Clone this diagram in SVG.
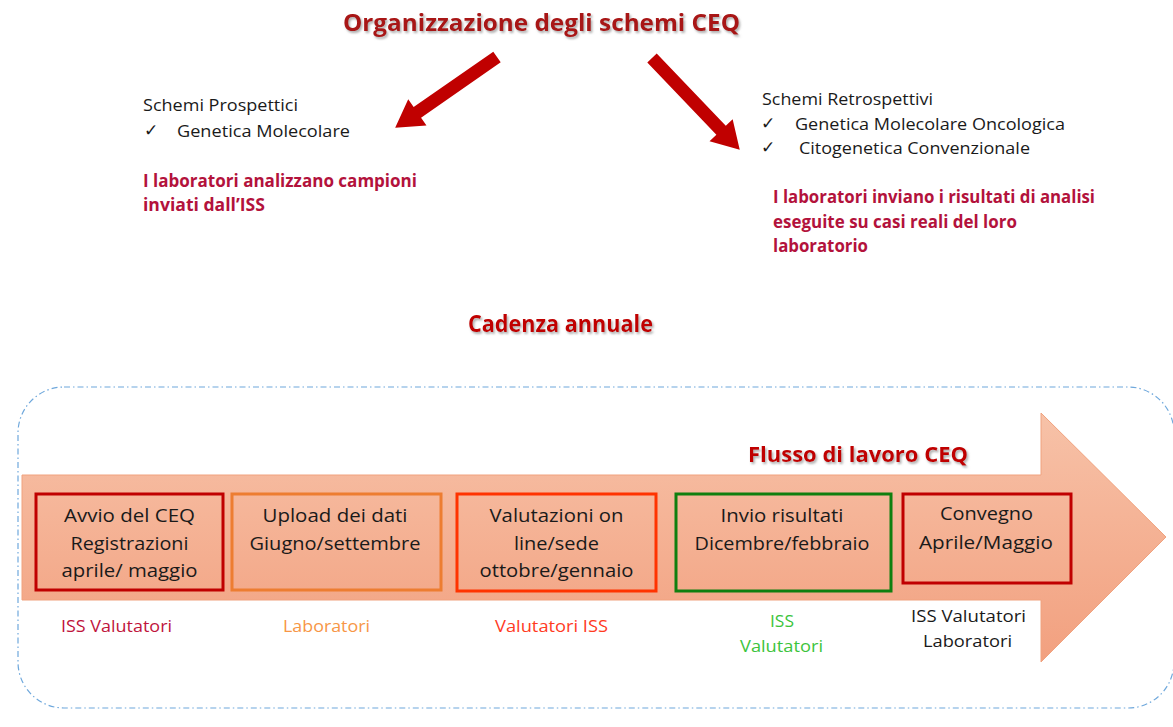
<svg xmlns="http://www.w3.org/2000/svg" width="1173" height="727" viewBox="0 0 1173 727">
<defs>
  <linearGradient id="arrowGrad" x1="0" y1="413" x2="0" y2="662" gradientUnits="userSpaceOnUse">
    <stop offset="0" stop-color="#F7C2A8"/>
    <stop offset="1" stop-color="#F2A07F"/>
  </linearGradient>
  <filter id="shadow" x="-10%" y="-30%" width="120%" height="160%">
    <feDropShadow dx="1.5" dy="2" stdDeviation="1" flood-color="#777" flood-opacity="0.6"/>
  </filter>
</defs>
<style>
  text { font-family: "Open Sans", "Liberation Sans", sans-serif; }
  .hdr { font-weight: bold; fill: #C00000; filter: url(#shadow); }
  .blk { font-size: 17px; fill: #1a1a1a; }
  .chk { font-family: "DejaVu Sans", sans-serif; font-size: 17px; fill: #1a1a1a; }
  .red { font-size: 17px; font-weight: bold; fill: #B3123C; }
  .box { fill: none; stroke-width: 3; }
  .bt { font-size: 19px; fill: #1a1a1a; text-anchor: middle; }
  .lbl { font-size: 16.5px; text-anchor: middle; }
  .blockarrow { fill: #C00000; }
</style>

<rect x="18" y="387" width="1156" height="321" rx="46" ry="46" fill="none" stroke="#6FA8DC" stroke-width="1.2" stroke-dasharray="6 3 1.5 3"/>

<g id="title">
  <text class="hdr" x="541.5" y="31" font-size="24" text-anchor="middle" textLength="397" lengthAdjust="spacingAndGlyphs" style="fill:#A81212">Organizzazione degli schemi CEQ</text>
</g>

<g id="connectors">
  <polygon class="blockarrow" transform="translate(497,57) rotate(145.2)" points="0,-6.5 97,-6.5 97,-16 124,0 97,16 97,6.5 0,6.5"/>
  <polygon class="blockarrow" transform="translate(652,58) rotate(46.3)" points="0,-6.5 100,-6.5 100,-16 127,0 100,16 100,6.5 0,6.5"/>
</g>

<g id="prospettici">
  <text class="blk" x="143" y="111" textLength="155" lengthAdjust="spacingAndGlyphs">Schemi Prospettici</text>
  <text class="chk" x="144" y="136">✓</text>
  <text class="blk" x="177" y="137" textLength="173" lengthAdjust="spacingAndGlyphs">Genetica Molecolare</text>
  <text class="red" x="143" y="187" textLength="274" lengthAdjust="spacingAndGlyphs">I laboratori analizzano campioni</text>
  <text class="red" x="143" y="211" textLength="122" lengthAdjust="spacingAndGlyphs">inviati dall’ISS</text>
</g>

<g id="retrospettivi">
  <text class="blk" x="762" y="105" textLength="171" lengthAdjust="spacingAndGlyphs">Schemi Retrospettivi</text>
  <text class="chk" x="761" y="129">✓</text>
  <text class="blk" x="795" y="130" textLength="270" lengthAdjust="spacingAndGlyphs">Genetica Molecolare Oncologica</text>
  <text class="chk" x="761" y="153">✓</text>
  <text class="blk" x="799" y="154" textLength="231" lengthAdjust="spacingAndGlyphs">Citogenetica Convenzionale</text>
  <text class="red" x="773" y="203" textLength="322" lengthAdjust="spacingAndGlyphs">I laboratori inviano i risultati di analisi</text>
  <text class="red" x="773" y="228" textLength="244" lengthAdjust="spacingAndGlyphs">eseguite su casi reali del loro</text>
  <text class="red" x="773" y="252" textLength="95" lengthAdjust="spacingAndGlyphs">laboratorio</text>
</g>

<g id="cadenza">
  <text class="hdr" x="560.5" y="332" font-size="23" text-anchor="middle" textLength="185" lengthAdjust="spacingAndGlyphs">Cadenza annuale</text>
</g>

<g id="flow-arrow">
  <polygon points="22,475 1041,475 1041,413 1166,537 1041,662 1041,600 22,600" fill="url(#arrowGrad)" stroke="#F0A27E" stroke-width="1"/>
  <text class="hdr" x="858" y="462" font-size="22" text-anchor="middle" textLength="220" lengthAdjust="spacingAndGlyphs">Flusso di lavoro CEQ</text>
</g>

<g id="step1">
  <rect class="box" x="36" y="494" width="187" height="96" stroke="#C00000"/>
  <text class="bt" x="129.5" y="522" textLength="131" lengthAdjust="spacingAndGlyphs">Avvio del CEQ</text>
  <text class="bt" x="129.5" y="550" textLength="118" lengthAdjust="spacingAndGlyphs">Registrazioni</text>
  <text class="bt" x="129.5" y="577" textLength="136" lengthAdjust="spacingAndGlyphs">aprile/ maggio</text>
  <text class="lbl" x="116.5" y="632" fill="#C0143C" textLength="111" lengthAdjust="spacingAndGlyphs">ISS Valutatori</text>
</g>

<g id="step2">
  <rect class="box" x="232" y="494" width="209" height="96" stroke="#ED7D31"/>
  <text class="bt" x="335" y="522" textLength="145" lengthAdjust="spacingAndGlyphs">Upload dei dati</text>
  <text class="bt" x="335" y="550" textLength="171" lengthAdjust="spacingAndGlyphs">Giugno/settembre</text>
  <text class="lbl" x="326.5" y="632" fill="#F79646" textLength="87" lengthAdjust="spacingAndGlyphs">Laboratori</text>
</g>

<g id="step3">
  <rect class="box" x="457" y="494" width="199" height="97" stroke="#FF3300"/>
  <text class="bt" x="556.5" y="522" textLength="134" lengthAdjust="spacingAndGlyphs">Valutazioni on</text>
  <text class="bt" x="556.5" y="550" textLength="85" lengthAdjust="spacingAndGlyphs">line/sede</text>
  <text class="bt" x="556.5" y="577" textLength="154" lengthAdjust="spacingAndGlyphs">ottobre/gennaio</text>
  <text class="lbl" x="551.5" y="632" fill="#FF3B1F" textLength="113" lengthAdjust="spacingAndGlyphs">Valutatori ISS</text>
</g>

<g id="step4">
  <rect class="box" x="676" y="494" width="215" height="97" stroke="#0F7F0F"/>
  <text class="bt" x="782" y="522" textLength="123" lengthAdjust="spacingAndGlyphs">Invio risultati</text>
  <text class="bt" x="782" y="550" textLength="175" lengthAdjust="spacingAndGlyphs">Dicembre/febbraio</text>
  <text class="lbl" x="782" y="627" fill="#3CC43C" textLength="24" lengthAdjust="spacingAndGlyphs">ISS</text>
  <text class="lbl" x="781.5" y="652" fill="#3CC43C" textLength="83" lengthAdjust="spacingAndGlyphs">Valutatori</text>
</g>

<g id="step5">
  <rect class="box" x="903" y="494" width="168" height="89" stroke="#C00000"/>
  <text class="bt" x="986.5" y="520" textLength="93" lengthAdjust="spacingAndGlyphs">Convegno</text>
  <text class="bt" x="986" y="549" textLength="134" lengthAdjust="spacingAndGlyphs">Aprile/Maggio</text>
  <text class="lbl" x="968.5" y="622" fill="#1a1a1a" textLength="115" lengthAdjust="spacingAndGlyphs">ISS  Valutatori</text>
  <text class="lbl" x="967.5" y="647" fill="#1a1a1a" textLength="89" lengthAdjust="spacingAndGlyphs">Laboratori</text>
</g>
</svg>
